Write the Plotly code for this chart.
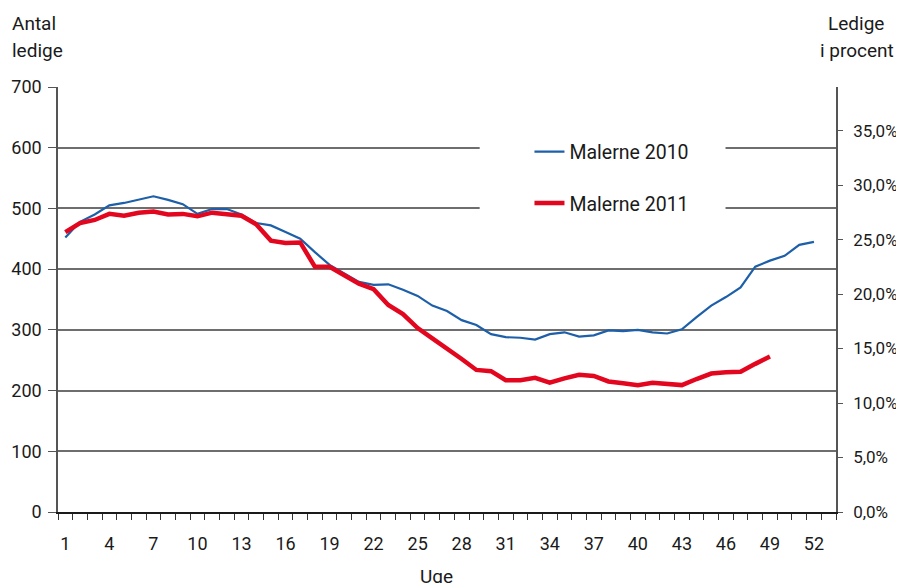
import plotly.graph_objects as go

weeks_2010 = list(range(1, 53))
malerne_2010 = [452, 478, 490, 505, 509, 514, 520, 514, 507, 491,
                499, 499, 490, 476, 472, 461, 450, 428, 407, 393,
                379, 374, 375, 366, 356, 340, 331, 316, 308, 293,
                288, 287, 284, 293, 296, 289, 291, 299, 298, 300,
                296, 294, 301, 321, 340, 354, 370, 404, 414, 422,
                440, 445]

weeks_2011 = list(range(1, 50))
malerne_2011 = [461, 476, 481, 491, 488, 493, 495, 490, 491, 487,
                493, 491, 488, 474, 447, 443, 444, 404, 404, 390,
                376, 367, 341, 326, 303, 286, 270, 252, 234, 232,
                217, 217, 221, 213, 220, 226, 224, 215, 212, 209,
                213, 211, 209, 219, 228, 230, 231, 244, 256]

x_labels = list(range(1, 53, 3))
left_ticks = list(range(0, 701, 100))
right_ticks = [0, 5, 10, 15, 20, 25, 30, 35]
right_ticktext = [f"{v:.1f}%".replace(".", ",") for v in right_ticks]

FONT = "Roboto"
TXT = "#1a1a1a"
fig = go.Figure()
fig.add_trace(go.Scatter(x=weeks_2010, y=malerne_2010, mode="lines", name="Malerne 2010",
                         line=dict(color="#1d5fa8", width=2.2), legendgroup="a"))
fig.add_trace(go.Scatter(x=weeks_2011, y=malerne_2011, mode="lines", name="Malerne 2011",
                         line=dict(color="#e3061f", width=4.5), legendgroup="b"))
# invisible trace to activate right axis
fig.add_trace(go.Scatter(x=[1], y=[0], yaxis="y2", mode="lines", showlegend=False,
                         line=dict(width=0), hoverinfo="skip"))

# page body has an 8px margin: shrink the figure and its top/left margins by 8px
fig.update_layout(
    width=896, height=575,
    margin=dict(l=50, r=68, t=79, b=71, autoexpand=False),
    plot_bgcolor="white", paper_bgcolor="white",
    font=dict(family=FONT, size=18, color=TXT),
    showlegend=True,
    legend=dict(x=0.606, y=0.893, xanchor="left", yanchor="top",
                bgcolor="rgba(0,0,0,0)", borderwidth=0,
                tracegroupgap=23, traceorder="grouped",
                font=dict(family=FONT, size=19.5, color=TXT)),
    xaxis=dict(range=[0.5, 53.5], tickmode="array", tickvals=x_labels,
               ticktext=[str(v) for v in x_labels], ticks="",
               ticklabelstandoff=14,
               showgrid=False, zeroline=False,
               showline=True, linecolor="#1a1a1a", linewidth=1.8,
               minor=dict(tickmode="linear", tick0=0.5, dtick=1, ticks="outside",
                          ticklen=6, tickcolor="#333333", tickwidth=1.2, showgrid=False),
               tickfont=dict(size=18)),
    yaxis=dict(range=[0, 700], tickvals=left_ticks, ticks="outside", ticklen=8,
               ticklabelstandoff=3,
               tickcolor="#555555", showgrid=True, gridcolor="#6e6e6e", gridwidth=1.5,
               zeroline=False, showline=True, linecolor="#555555", linewidth=1.5,
               tickfont=dict(size=18)),
    yaxis2=dict(range=[0, 39.0], overlaying="y", side="right", tickmode="array",
                tickvals=right_ticks, ticktext=right_ticktext,
                ticks="outside", ticklen=5, ticklabelstandoff=7,
                tickcolor="#555555", showgrid=False, zeroline=False,
                showline=True, linecolor="#555555", linewidth=1.5,
                tickfont=dict(size=17)),
)

# white box behind legend interrupting gridlines
fig.add_shape(type="rect", xref="paper", yref="paper", x0=0.542, x1=0.858,
              y0=0.665, y1=0.905, fillcolor="white", line=dict(width=0), layer="above")

ann = dict(xref="paper", yref="paper", showarrow=False, borderpad=0,
           font=dict(family=FONT, size=19, color=TXT))
fig.add_annotation(text="Antal", x=-0.06, y=1.178, xanchor="left", yanchor="top", **ann)
fig.add_annotation(text="ledige", x=-0.06, y=1.115, xanchor="left", yanchor="top", **ann)
fig.add_annotation(text="Ledige", x=1.0625, y=1.178, xanchor="right", yanchor="top", **ann)
fig.add_annotation(text="i procent", x=1.076, y=1.115, xanchor="right", yanchor="top", **ann)
fig.add_annotation(text="Uge", x=0.486, y=-0.122, xanchor="center", yanchor="top", **ann)

fig.write_html("out.html")
